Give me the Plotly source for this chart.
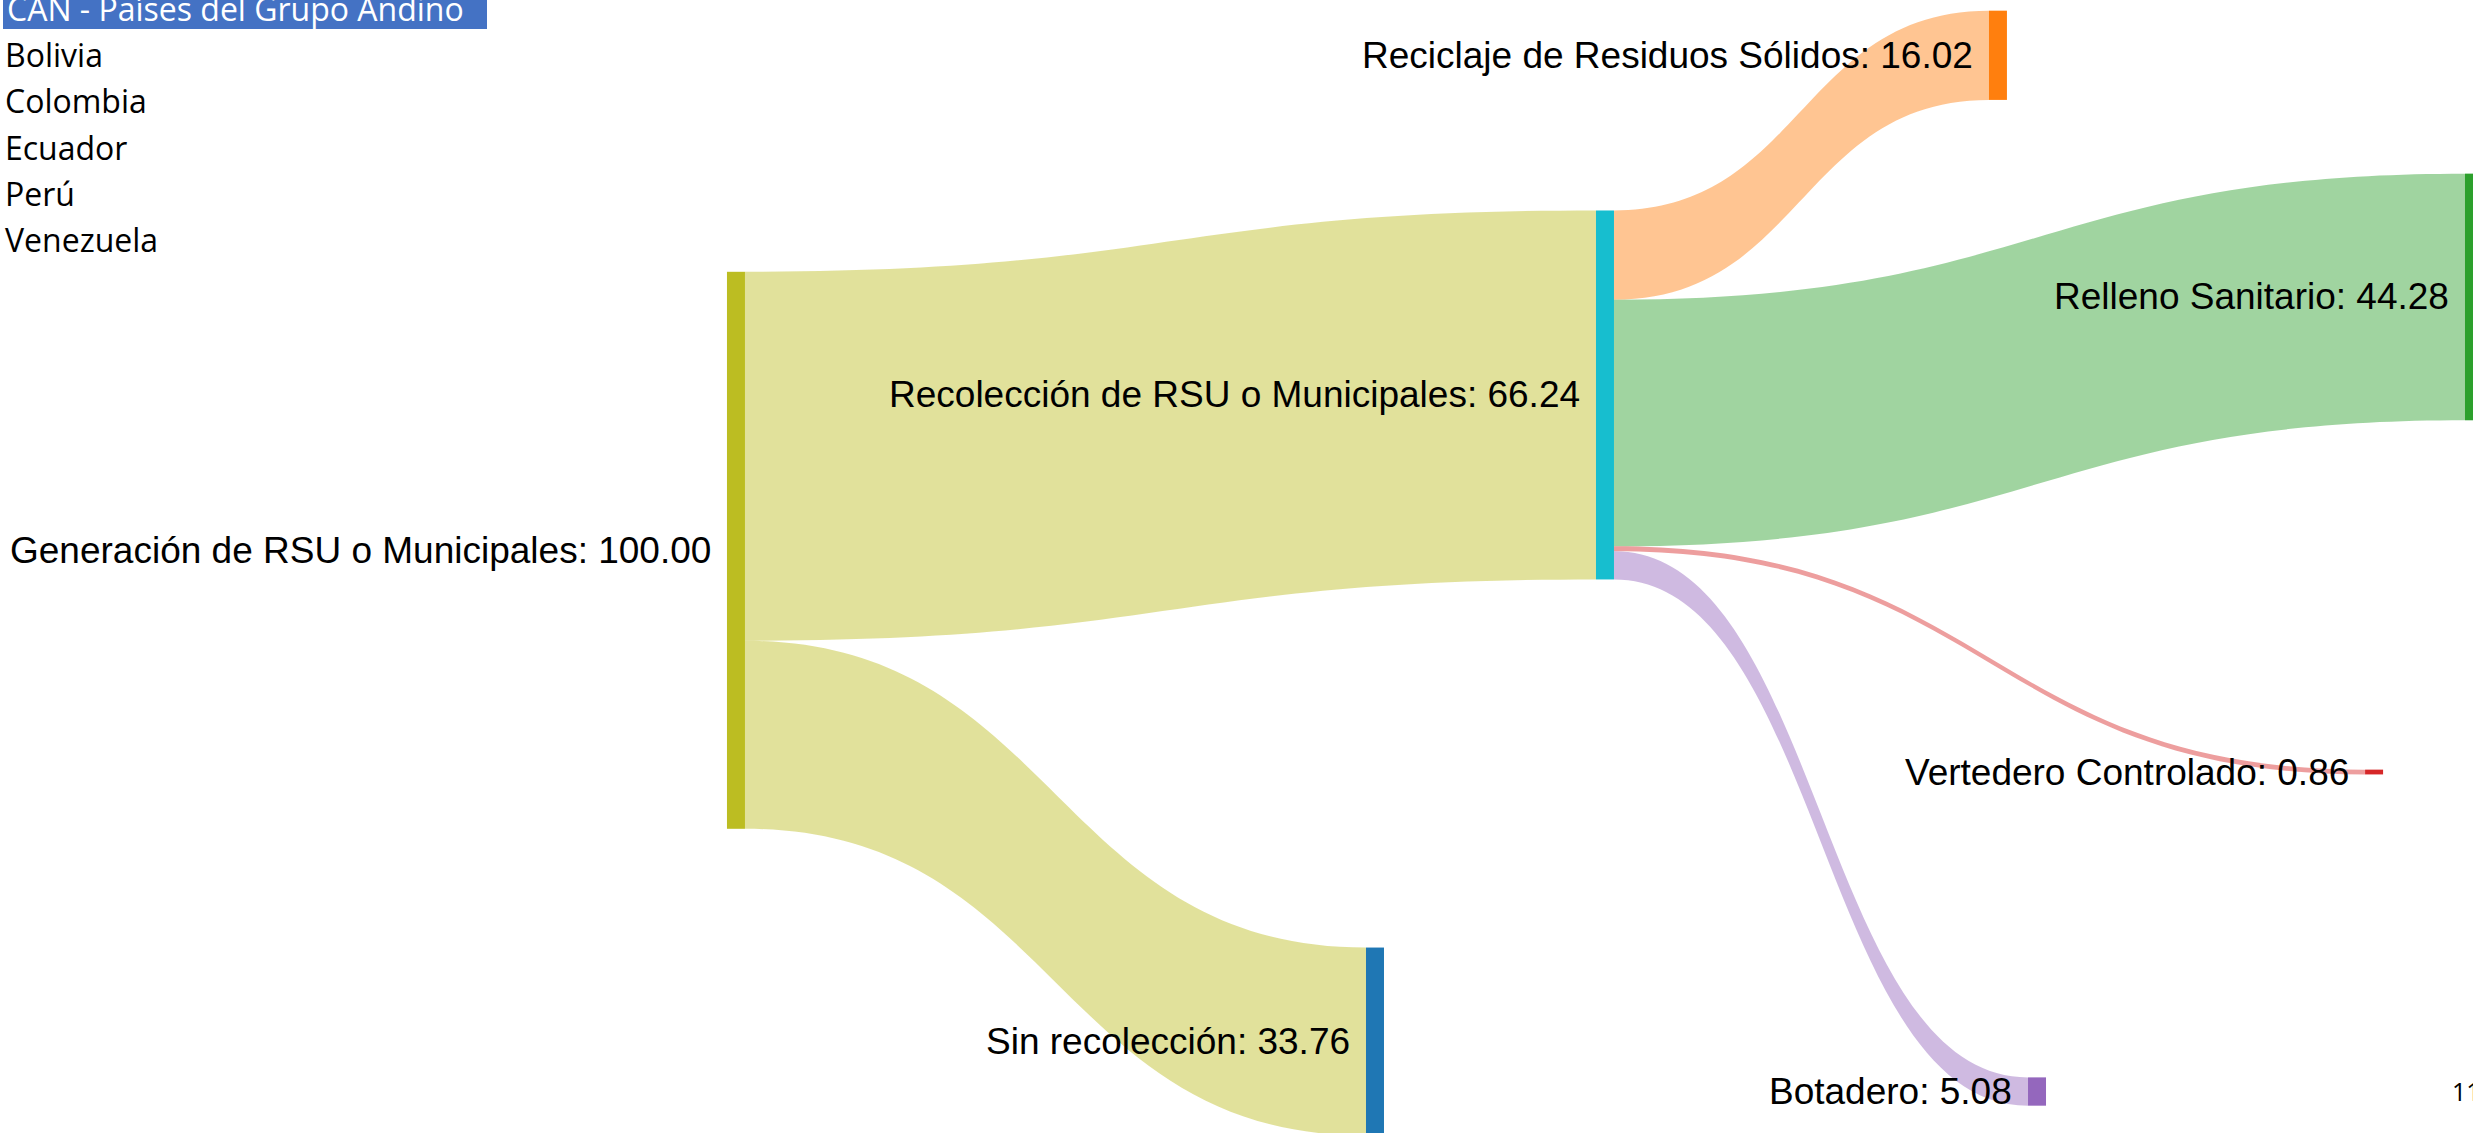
import plotly.graph_objects as go

# ---------------- data ----------------
slicer_title = "CAN - Países del Grupo Andino"
countries = ["Bolivia", "Colombia", "Ecuador", "Perú", "Venezuela"]
page_number = "11"

node_names = [
    "Generación de RSU o Municipales",
    "Recolección de RSU o Municipales",
    "Sin recolección",
    "Reciclaje de Residuos Sólidos",
    "Relleno Sanitario",
    "Vertedero Controlado",
    "Botadero",
]
link_source = [0, 0, 1, 1, 1, 1]
link_target = [1, 2, 3, 4, 5, 6]
link_value = [66.24, 33.76, 16.02, 44.28, 0.86, 5.08]

# ---------------- styles / layout ----------------
W, H = 2473, 1133
node_colors = ["#bcbd22", "#17becf", "#1f77b4", "#ff7f0e", "#2ca02c", "#d62728", "#9467bd"]
link_color_node = [0, 0, 3, 4, 5, 6]  # which node colour each link takes
link_alpha = 0.45
node_x = [0.2976, 0.6490, 0.5560, 0.8079, 1.0004, 0.9600, 0.8237]
node_y = [0.4857, 0.3486, 0.9193, 0.0488, 0.2621, 0.6814, 0.9634]
node_thickness = 18
node_pad = 144
label_font = dict(family="Liberation Sans, Arial", size=37, color="#000000")
slicer_font_family = "Open Sans"


def rgba(hex_color, a):
    h = hex_color.lstrip("#")
    r, g, b = int(h[0:2], 16), int(h[2:4], 16), int(h[4:6], 16)
    return f"rgba({r},{g},{b},{a})"


link_colors = [rgba(node_colors[i], link_alpha) for i in link_color_node]

# node totals
n = len(node_names)
inflow = [0.0] * n
outflow = [0.0] * n
for s, t, v in zip(link_source, link_target, link_value):
    outflow[s] += v
    inflow[t] += v
node_totals = [max(a, b) for a, b in zip(inflow, outflow)]
node_texts = [f"{name}: {val:.2f}" for name, val in zip(node_names, node_totals)]

fig = go.Figure(
    go.Sankey(
        arrangement="fixed",
        domain=dict(x=[0, 1], y=[0, 1]),
        node=dict(
            label=[""] * n,
            customdata=node_texts,
            hovertemplate="%{customdata}<extra></extra>",
            color=node_colors,
            x=node_x,
            y=node_y,
            thickness=node_thickness,
            pad=node_pad,
            line=dict(width=0),
        ),
        link=dict(
            source=link_source,
            target=link_target,
            value=link_value,
            color=link_colors,
            hovertemplate="%{value:.2f}<extra></extra>",
        ),
    )
)

annotations = []
# node labels, placed to the left of each node
for txt, x, y in zip(node_texts, node_x, node_y):
    annotations.append(
        dict(
            text=txt,
            x=x - (node_thickness / 2 + 14) / W,
            y=1 - y,
            xref="paper",
            yref="paper",
            xanchor="right",
            yanchor="middle",
            showarrow=False,
            font=label_font,
        )
    )

# slicer header and items
annotations.append(
    dict(
        text=slicer_title,
        x=5 / W,
        y=1 - 8 / H,
        xref="paper",
        yref="paper",
        xanchor="left",
        yanchor="middle",
        showarrow=False,
        font=dict(family=slicer_font_family, size=32, color="#ffffff"),
    )
)
for i, c in enumerate(countries):
    baseline = 67 + i * 46.3
    annotations.append(
        dict(
            text=c,
            x=3 / W,
            y=1 - (baseline - 12.5) / H,
            xref="paper",
            yref="paper",
            xanchor="left",
            yanchor="middle",
            showarrow=False,
            font=dict(family=slicer_font_family, size=32, color="#000000"),
        )
    )
annotations.append(
    dict(
        text=page_number,
        x=2450 / W,
        y=1 - 1091 / H,
        xref="paper",
        yref="paper",
        xanchor="left",
        yanchor="middle",
        showarrow=False,
        font=dict(family=slicer_font_family, size=25, color="#000000"),
    )
)

fig.update_layout(
    width=W,
    height=H,
    autosize=False,
    margin=dict(l=0, r=0, t=0, b=0, pad=0),
    paper_bgcolor="#ffffff",
    plot_bgcolor="#ffffff",
    annotations=annotations,
    shapes=[
        dict(
            type="rect",
            xref="paper",
            yref="paper",
            x0=3 / W,
            x1=487 / W,
            y0=1 - 29 / H,
            y1=1.01,
            fillcolor="#4472c4",
            line=dict(width=0),
            layer="below",
        )
    ],
)

fig.write_html(
    "out.html",
    config={"displayModeBar": False},
    post_script="document.body.style.margin='0';document.body.style.overflow='hidden';",
)
